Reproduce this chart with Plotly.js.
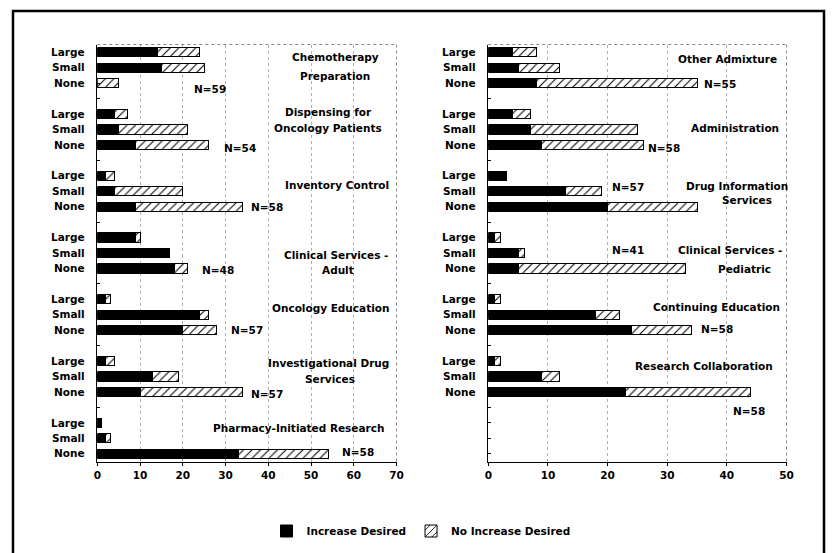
<!DOCTYPE html>
<html>
<head>
<meta charset="utf-8">
<script src="https://cdn.plot.ly/plotly-3.0.1.min.js"></script>
<style>html,body{margin:0;padding:0;background:#fff;}#chart{width:832px;height:553px;}</style>
</head>
<body>
<div id="chart"></div>
<script>
// ---- DATA ----
const rowLabels = ["Large", "Small", "None"];

const leftGroups = ["Chemotherapy Preparation", "Dispensing for Oncology Patients", "Inventory Control",
  "Clinical Services - Adult", "Oncology Education", "Investigational Drug Services", "Pharmacy-Initiated Research"];
const leftIncrease   = [14, 15, 0,   4, 5, 9,   2, 4, 9,   9, 17, 18,   2, 24, 20,   2, 13, 10,   1, 2, 33];
const leftNoIncrease = [10, 10, 5,   3, 16, 17, 2, 16, 25, 1, 0, 3,     1, 2, 8,     2, 6, 24,    0, 1, 21];

const rightGroups = ["Other Admixture", "Administration", "Drug Information Services",
  "Clinical Services - Pediatric", "Continuing Education", "Research Collaboration"];
const rightIncrease   = [4, 5, 8,   4, 7, 9,    3, 13, 20,  1, 5, 5,    1, 18, 24,  1, 9, 23];
const rightNoIncrease = [4, 7, 27,  3, 18, 17,  0, 6, 15,   1, 1, 28,   1, 4, 10,   1, 3, 21];

const seriesNames = ["Increase Desired", "No Increase Desired"];
const leftTicks = [0, 10, 20, 30, 40, 50, 60, 70];
const rightTicks = [0, 10, 20, 30, 40, 50];

// ---- LAYOUT HELPERS ----
const W = 832, H = 553;
const px = x => x / W;
const py = y => 1 - y / H;
const SLOTS = 27; // 7 groups of 3 rows + 6 gap rows

function positions(nGroups) {
  const ys = [];
  for (let g = 0; g < nGroups; g++) for (let r = 0; r < 3; r++) ys.push(g * 4 + r);
  return ys;
}
function tickInfo(nGroups) {
  const vals = [], text = [];
  for (let s = 0; s < SLOTS; s++) {
    vals.push(s);
    const g = Math.floor(s / 4), r = s % 4;
    text.push(g < nGroups && r < 3 ? rowLabels[r] : "");
  }
  return {vals, text};
}

const FONT = "DejaVu Sans, Verdana, sans-serif";
const FS = 10.5;
const blackMarker = {color: "#000", line: {color: "#000", width: 1}};
const hatchMarker = {color: "#fff", line: {color: "#000", width: 1},
  pattern: {shape: "/", bgcolor: "#fff", fgcolor: "#000", size: 6, solidity: 0.18}};

const yL = positions(leftGroups.length), yR = positions(rightGroups.length);

const traces = [
  {type: "bar", orientation: "h", x: leftIncrease, y: yL, name: seriesNames[0], marker: blackMarker,
   width: 0.6, xaxis: "x", yaxis: "y", legendgroup: "a", hoverinfo: "x"},
  {type: "bar", orientation: "h", x: leftNoIncrease, y: yL, name: seriesNames[1], marker: hatchMarker,
   width: 0.6, xaxis: "x", yaxis: "y", legendgroup: "b", hoverinfo: "x"},
  {type: "bar", orientation: "h", x: rightIncrease, y: yR, name: seriesNames[0], marker: blackMarker,
   width: 0.6, xaxis: "x2", yaxis: "y2", showlegend: false, legendgroup: "a", hoverinfo: "x"},
  {type: "bar", orientation: "h", x: rightNoIncrease, y: yR, name: seriesNames[1], marker: hatchMarker,
   width: 0.6, xaxis: "x2", yaxis: "y2", showlegend: false, legendgroup: "b", hoverinfo: "x"}
];

const tL = tickInfo(leftGroups.length), tR = tickInfo(rightGroups.length);

function xAxis(domain, range, ticks, anchor) {
  return {domain, range, tickvals: ticks, ticktext: ticks.map(String), anchor,
    showline: true, linecolor: "#000", linewidth: 1.5, ticks: "outside", ticklen: 3, tickcolor: "#000",
    showgrid: true, gridcolor: "#b0b0b0", griddash: "dot", gridwidth: 1, zeroline: false,
    tickfont: {family: FONT, size: FS, color: "#000", weight: "bold"}, fixedrange: true};
}
function yAxis(domain, info, anchor) {
  return {domain, range: [SLOTS - 0.5, -0.5], tickvals: info.vals, ticktext: info.text, anchor,
    showline: true, linecolor: "#000", linewidth: 1.5, ticks: "inside", ticklen: 3, tickcolor: "#000",
    showgrid: false, zeroline: false, ticklabelstandoff: 9,
    tickfont: {family: FONT, size: FS, color: "#000", weight: "bold"}, fixedrange: true};
}

const notes = [
  ["Chemotherapy", 335, 57], ["Preparation", 335, 76], ["N=59", 210, 89],
  ["Dispensing for", 328, 112], ["Oncology Patients", 328, 128], ["N=54", 240, 148],
  ["Inventory Control", 337, 185], ["N=58", 267, 207],
  ["Clinical Services -", 336, 255], ["Adult", 338, 270], ["N=48", 218, 270],
  ["Oncology Education", 330, 308], ["N=57", 247, 330],
  ["Investigational Drug", 328, 363], ["Services", 330, 379], ["N=57", 267, 394],
  ["Pharmacy-Initiated Research", 298, 428], ["N=58", 358, 452],
  ["Other Admixture", 727, 59], ["N=55", 720, 84],
  ["Administration", 735, 128], ["N=58", 664, 148],
  ["Drug Information", 737, 186], ["Services", 747, 200], ["N=57", 628, 187],
  ["N=41", 628, 250], ["Clinical Services -", 730, 250], ["Pediatric", 744, 269],
  ["Continuing Education", 716, 307], ["N=58", 717, 329],
  ["Research Collaboration", 704, 366], ["N=58", 749, 411]
];

const annotations = notes.map(([t, x, y]) => ({
  text: t, xref: "paper", yref: "paper", x: px(x), y: py(y), xanchor: "center", yanchor: "middle",
  showarrow: false, font: {family: FONT, size: FS, color: "#000", weight: "bold"}
}));

const border = (xr, yr) => ([
  {type: "line", xref: xr + " domain", yref: yr + " domain", x0: 0, x1: 1, y0: 1, y1: 1,
   line: {color: "#888", width: 1, dash: "dot"}},
  {type: "line", xref: xr + " domain", yref: yr + " domain", x0: 1, x1: 1, y0: 0, y1: 1,
   line: {color: "#888", width: 1, dash: "dot"}}
]);

const shapes = [
  ...border("x", "y"), ...border("x2", "y2"),
  {type: "rect", xref: "paper", yref: "paper", x0: px(13), x1: px(824), y0: py(11), y1: py(580),
   line: {color: "#000", width: 2.5}, fillcolor: "rgba(0,0,0,0)"}
];

const layout = {
  width: W, height: H, margin: {l: 0, r: 0, t: 0, b: 0},
  paper_bgcolor: "#fff", plot_bgcolor: "#fff", barmode: "stack", bargap: 0,
  font: {family: FONT, size: FS, color: "#000"},
  xaxis: xAxis([px(97.3), px(396.5)], [0, 70], leftTicks, "y"),
  yaxis: yAxis([py(461.5), py(44.5)], tL, "x"),
  xaxis2: xAxis([px(488.3), px(786.5)], [0, 50], rightTicks, "y2"),
  yaxis2: yAxis([py(461.5), py(44.5)], tR, "x2"),
  showlegend: true,
  legend: {orientation: "h", x: px(421), y: py(531), xanchor: "center", yanchor: "middle",
    font: {family: FONT, size: FS, color: "#000", weight: "bold"}, bgcolor: "rgba(0,0,0,0)",
    itemwidth: 30, traceorder: "normal"},
  annotations, shapes
};

Plotly.newPlot("chart", traces, layout, {displayModeBar: false, staticPlot: true});
</script>
</body>
</html>
